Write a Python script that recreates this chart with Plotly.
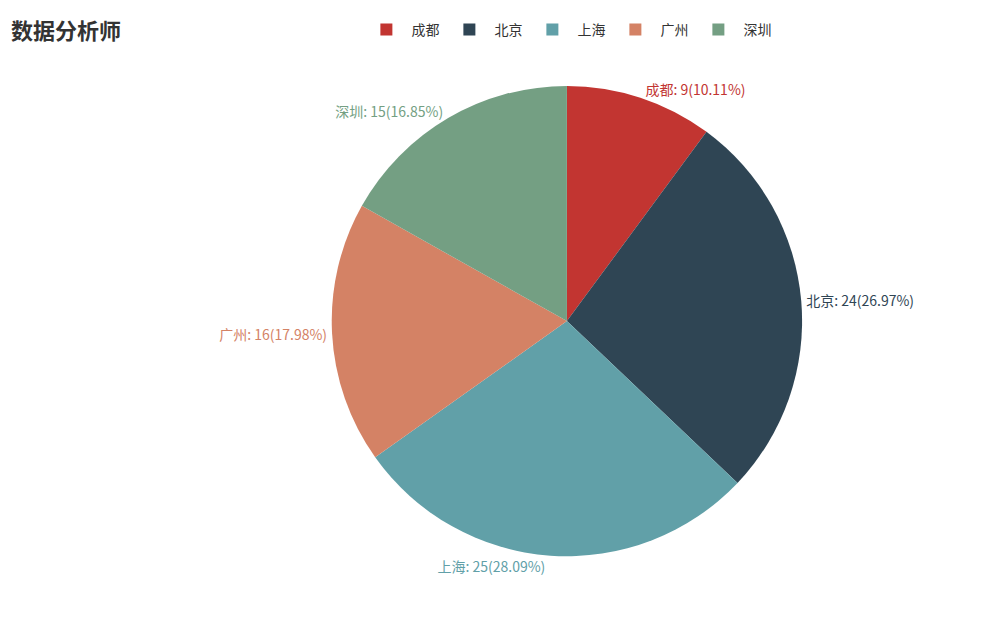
import plotly.graph_objects as go

cities = ["成都", "北京", "上海", "广州", "深圳"]
counts = [9, 24, 25, 16, 15]
colors = ["#c23531", "#2f4554", "#61a0a8", "#d48265", "#749f83"]

fig = go.Figure(go.Pie(
    labels=cities, values=counts, sort=False, direction="clockwise", rotation=0,
    marker=dict(colors=colors),
    texttemplate="%{label}: %{value}(%{percent:.2%})",
    textposition="outside",
    textfont=dict(color=colors, size=14, family="Noto Sans CJK SC"),
    domain=dict(x=[0.329, 0.807], y=[0.120, 0.875]),
    hoverinfo="label+value+percent",
))
fig.update_layout(
    width=984, height=623, paper_bgcolor="white",
    margin=dict(l=0, r=0, t=0, b=0),
    font=dict(family="Noto Sans CJK SC", color="#333"),
    title=dict(text="<b>数据分析师</b>", x=0.003, y=0.962, xanchor="left", yanchor="middle",
               font=dict(size=22, color="#333")),
    legend=dict(orientation="h", x=0.57, y=0.965, xanchor="center", yanchor="middle",
                itemwidth=40, font=dict(size=14, color="#333")),
)
fig.write_html("out.html")
